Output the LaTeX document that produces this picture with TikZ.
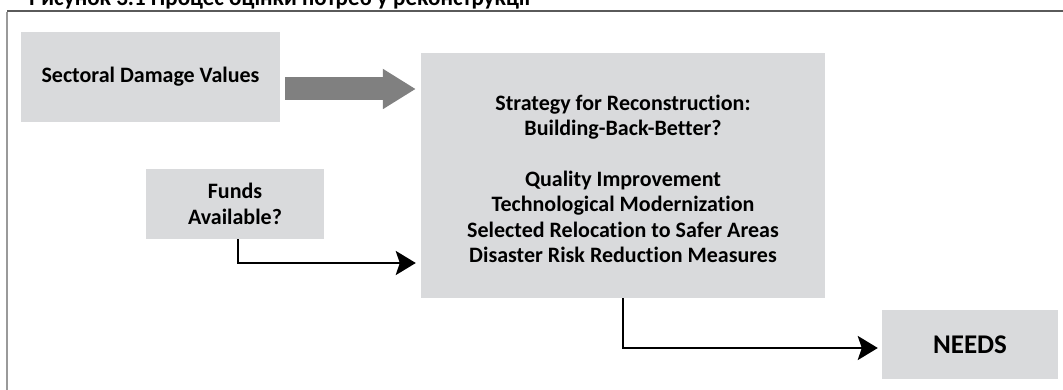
\documentclass[tikz,border=0pt]{standalone}
\usepackage{fontspec}
\setmainfont{Carlito}[Ligatures=NoCommon]
\usetikzlibrary{arrows.meta}
\begin{document}
\begin{tikzpicture}[x=1pt, y=-1pt,
  box/.style={fill=boxgrey, inner sep=0pt, align=center, font=\fontsize{22}{25.5}\selectfont\bfseries},
  flowarrow/.style={line width=2.6pt, -{Stealth[length=20pt, width=24pt, inset=4pt]}},
  bigarrow/.style={draw=arrowgrey, line width=23pt, -{Triangle[length=33pt, width=38pt]}, shorten <=5pt, shorten >=5pt}]
\definecolor{boxgrey}{HTML}{D9DADC}
\definecolor{arrowgrey}{HTML}{808080}
\definecolor{frametop}{HTML}{5A5A5A}
\definecolor{frameleft}{HTML}{9A9A9A}
\useasboundingbox (0,0) rectangle (1063,390);
\clip (0,0) rectangle (1063,390);
\node[anchor=base west, inner sep=0pt, font=\fontsize{23}{26}\selectfont\bfseries] (title) at (29,6) {Рисунок 3.1 Процес оцінки потреб у реконструкції};
\draw[frametop, line width=2pt] (7,11) -- (1070,11);
\draw[frameleft, line width=2pt] (7,12) -- (7,400);
\node[box, minimum width=259pt, minimum height=90pt] (sect) at (150.5,77) {Sectoral Damage Values};
\node[box, minimum width=178pt, minimum height=70pt] (funds) at (235,204) {Funds\\Available?};
\node[box, minimum width=404pt, minimum height=245pt] (strat) at (623,175.5) {\rule{0pt}{22pt}Strategy for Reconstruction:\\Building-Back-Better?\\[25pt]Quality Improvement\\Technological Modernization\\Selected Relocation to Safer Areas\\Disaster Risk Reduction Measures};
\node[box, minimum width=176pt, minimum height=69pt, font=\fontsize{27}{30}\selectfont\bfseries] (needs) at (970,344.5) {NEEDS};
\coordinate (fundsin) at (strat.west |- 0,263);
\draw[bigarrow] ([yshift=-12pt]sect.east) -- ([yshift=-12pt]sect.east -| strat.west);
\draw[flowarrow, shorten >=5pt] ([xshift=3pt]funds.south) |- (fundsin);
\draw[flowarrow, shorten >=4pt] (strat.south) |- ([yshift=-3.5pt]needs.west);
\end{tikzpicture}
\end{document}
